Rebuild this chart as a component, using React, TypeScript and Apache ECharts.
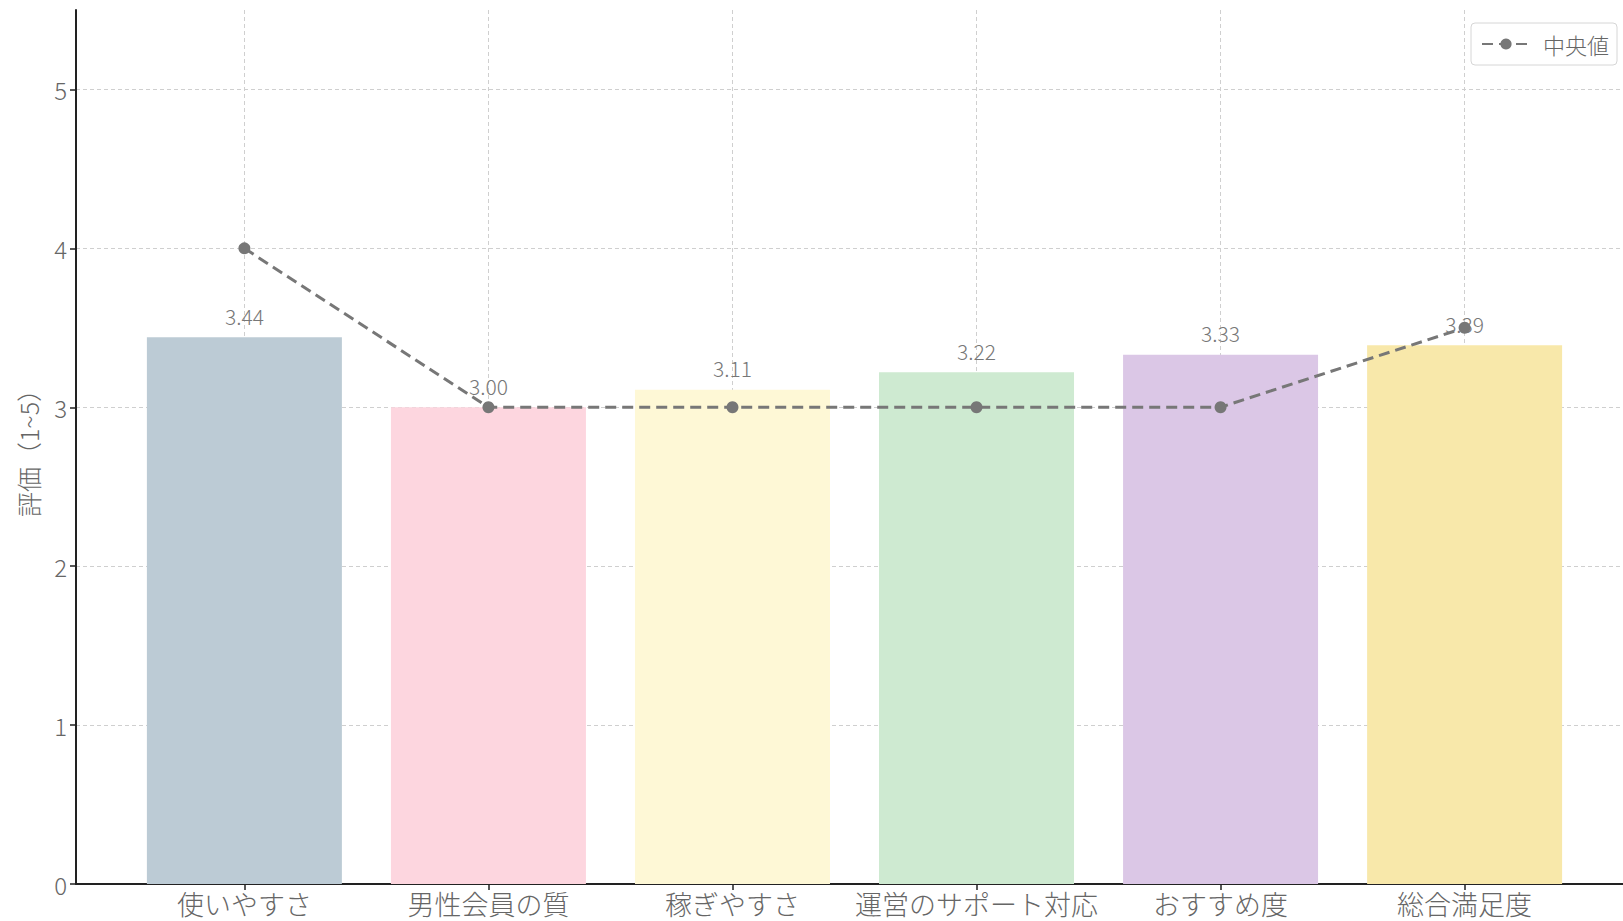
import React, { useEffect, useRef } from "react";
import * as echarts from "echarts";

const categories = ["使いやすさ", "男性会員の質", "稼ぎやすさ", "運営のサポート対応", "おすすめ度", "総合満足度"];
const meanValues = [3.44, 3.0, 3.11, 3.22, 3.33, 3.39];
const medianValues = [4, 3, 3, 3, 3, 3.5];
const barColors = ["#bccbd5", "#fdd6df", "#fef8d6", "#ceead1", "#dbc7e6", "#f8e8aa"];
const yTicks = [0, 1, 2, 3, 4, 5];
const yAxisName = "評価（1~5）";
const legendName = "中央値";

const FONT = "'Noto Sans CJK JP', 'Noto Sans', sans-serif";

export default function App() {
  const ref = useRef<HTMLDivElement>(null);
  useEffect(() => {
    if (!ref.current) return;
    const chart = echarts.init(ref.current, null, { renderer: "svg" });
    const idx = categories.map((_, i) => i);
    chart.setOption({
      animation: false,
      textStyle: { fontFamily: FONT, fontWeight: 300 },
      grid: { left: 76, top: 10, width: 1557, height: 874 },
      legend: {
        data: [{ name: legendName }],
        left: 1471,
        top: 23,
        orient: "vertical",
        itemWidth: 48,
        itemHeight: 14,
        itemGap: 10,
        padding: [10, 8, 10, 10],
        borderColor: "#d6d6d6",
        borderWidth: 1,
        borderRadius: 4,
        backgroundColor: "#ffffff",
        textStyle: { fontSize: 22, color: "#666", fontFamily: FONT, fontWeight: 300, padding: [0, 0, 0, 8] },
      },
      xAxis: {
        type: "value",
        min: -0.69,
        max: 5.69,
        axisLine: { show: true, onZero: false, lineStyle: { color: "#222", width: 2 } },
        axisTick: { show: true, customValues: idx, length: 6, lineStyle: { color: "#222", width: 1.5 } },
        axisLabel: {
          customValues: idx,
          formatter: (v: number) => categories[Math.round(v)] ?? "",
          fontSize: 27,
          color: "#666",
          fontFamily: FONT,
          fontWeight: 300,
          margin: 6,
        },
        splitLine: { show: true, lineStyle: { color: "#cfcfcf", type: [4, 3], width: 1 } },
      },
      yAxis: {
        type: "value",
        min: 0,
        max: 5.5,
        interval: 1,
        name: yAxisName,
        nameLocation: "middle",
        nameGap: 36,
        nameTextStyle: { fontSize: 25, color: "#666", fontFamily: FONT, fontWeight: 300 },
        axisLine: { show: true, onZero: false, lineStyle: { color: "#222", width: 2 } },
        axisTick: { show: true, length: 6, lineStyle: { color: "#222", width: 1.5 } },
        axisLabel: {
          fontSize: 24,
          color: "#666",
          fontFamily: FONT,
          fontWeight: 300,
          margin: 9,
          showMaxLabel: false,
          formatter: (v: number) => (yTicks.includes(v) ? String(v) : ""),
        },
        splitLine: { show: true, showMaxLine: false, lineStyle: { color: "#cfcfcf", type: [4, 3], width: 1 } },
      },
      series: [
        {
          name: "平均値",
          type: "bar",
          barWidth: 195,
          data: meanValues.map((v, i) => ({ value: [i, v], itemStyle: { color: barColors[i] } })),
          label: {
            show: true,
            position: "top",
            distance: 11,
            formatter: (p: any) => p.value[1].toFixed(2),
            fontSize: 21,
            color: "#777",
            fontFamily: FONT,
            fontWeight: 300,
          },
          z: 2,
        },
        {
          name: legendName,
          type: "line",
          data: medianValues.map((v, i) => [i, v]),
          symbol: "circle",
          symbolSize: 12,
          itemStyle: { color: "#777777" },
          lineStyle: { color: "#777777", width: 3, type: [11, 6] },
          z: 3,
        },
      ],
    });
    return () => chart.dispose();
  }, []);
  return <div ref={ref} style={{ position: "fixed", left: 0, top: 0, width: 1640, height: 921, background: "#fff" }} />;
}
